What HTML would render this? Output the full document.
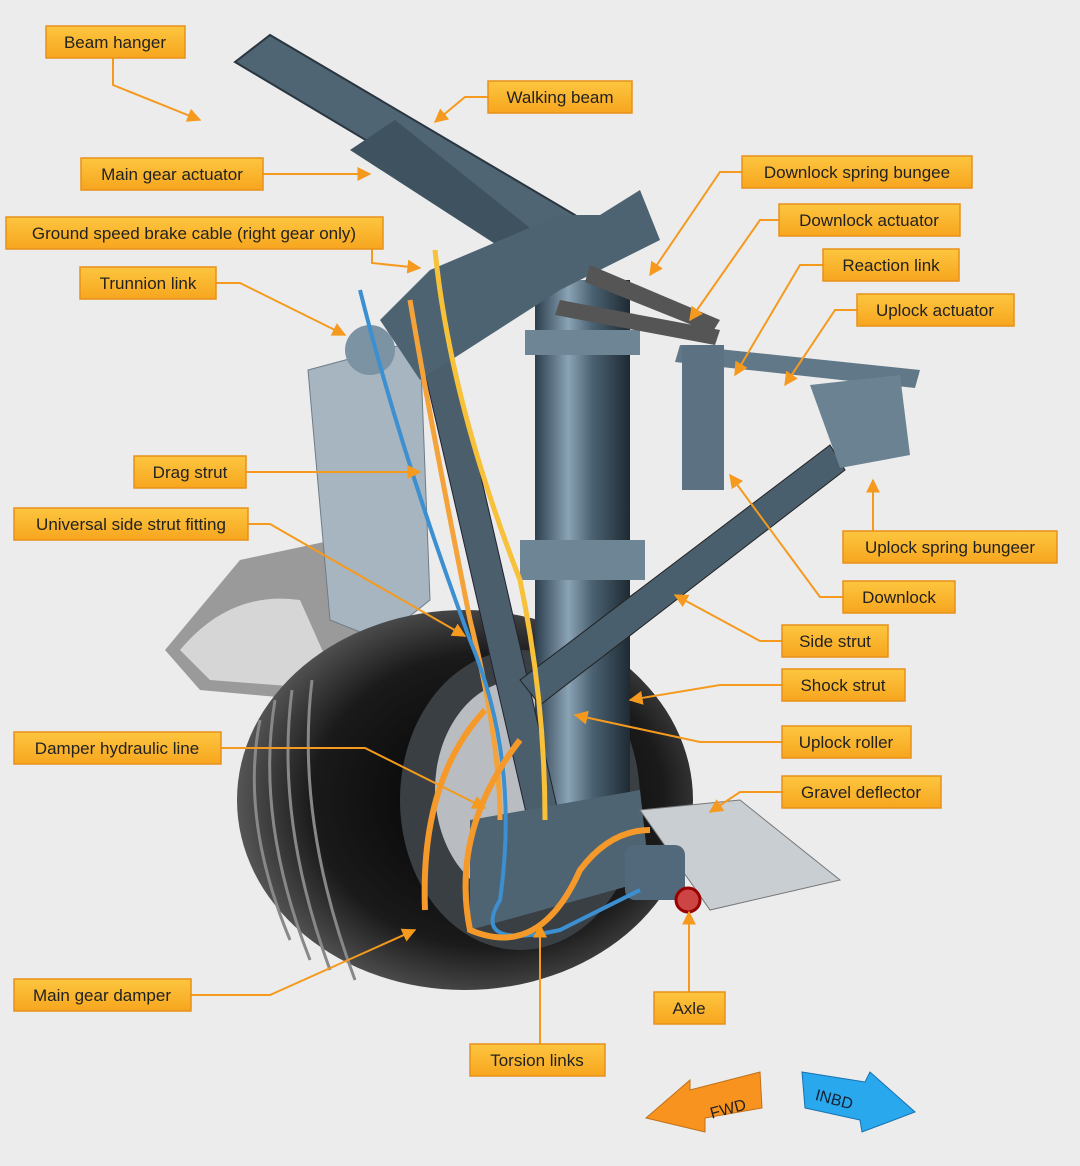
<!DOCTYPE html>
<html><head><meta charset="utf-8"><style>
html,body{margin:0;padding:0;background:#ececec;}
svg{display:block}
text{font-family:"Liberation Sans",sans-serif;}
</style></head><body>
<svg width="1080" height="1166" viewBox="0 0 1080 1166" xmlns="http://www.w3.org/2000/svg">
<defs>
<linearGradient id="lb" x1="0" y1="0" x2="0" y2="1"><stop offset="0" stop-color="#fdc640"/><stop offset="1" stop-color="#f7a51e"/></linearGradient>
<linearGradient id="cyl" x1="0" y1="0" x2="1" y2="0"><stop offset="0" stop-color="#2c3e4c"/><stop offset="0.35" stop-color="#8aa3b5"/><stop offset="0.6" stop-color="#4b6272"/><stop offset="1" stop-color="#1e2a33"/></linearGradient>
<radialGradient id="tire" cx="0.55" cy="0.5" r="0.55"><stop offset="0" stop-color="#000"/><stop offset="0.7" stop-color="#1a1a1a"/><stop offset="1" stop-color="#555"/></radialGradient>
<marker id="ah" viewBox="0 0 10 10" refX="9" refY="5" markerWidth="7" markerHeight="7" orient="auto"><path d="M0,0 L10,5 L0,10 z" fill="#f59a1e"/></marker>
</defs>
<rect width="1080" height="1166" fill="#ececec"/>
<!-- fairing -->
<path d="M165,650 L240,560 L380,530 L390,640 L310,700 L200,690 Z" fill="#9a9a9a"/>
<path d="M180,650 Q230,590 300,600 L340,690 L210,680 Z" fill="#d6d6d6"/>
<!-- panel -->
<path d="M308,370 L420,340 L430,600 L380,640 L330,620 Z" fill="#a6b5c0" stroke="#6d7d88"/>
<!-- tire -->
<ellipse cx="465" cy="800" rx="228" ry="190" fill="url(#tire)"/>
<path d="M260,720 Q240,820 290,940 M275,700 Q255,820 310,960 M292,690 Q275,820 330,970 M312,680 Q295,820 355,980" stroke="#888" stroke-width="3" fill="none"/>
<ellipse cx="520" cy="800" rx="120" ry="150" fill="#3a3f44"/>
<ellipse cx="520" cy="790" rx="85" ry="110" fill="#b9bdc2"/>
<!-- strut -->
<rect x="535" y="280" width="95" height="560" fill="url(#cyl)"/>
<rect x="520" y="540" width="125" height="40" fill="#6e8595"/>
<rect x="525" y="330" width="115" height="25" fill="#6e8595"/>
<!-- walking beam -->
<path d="M235,62 L270,35 L575,215 L550,250 Z" fill="#4f6574" stroke="#2a3640" stroke-width="2"/>
<path d="M350,150 L395,120 L545,240 L520,260 Z" fill="#3e5260"/>
<!-- drag strut -->
<path d="M415,330 L445,320 L560,820 L530,830 Z" fill="#4a5e6c" stroke="#223" />
<!-- top fittings -->
<path d="M380,320 L430,270 L560,215 L600,215 L640,190 L660,240 L560,290 L420,380 Z" fill="#4d6371"/>
<circle cx="370" cy="350" r="25" fill="#7c93a4"/>
<!-- side strut -->
<path d="M520,680 L830,445 L845,470 L540,705 Z" fill="#4a5f6d" stroke="#222"/>
<!-- actuators right -->
<path d="M590,265 L720,320 L712,333 L585,282 Z" fill="#555"/>
<path d="M560,300 L720,330 L715,345 L555,315 Z" fill="#555"/>
<path d="M680,345 L920,370 L915,388 L675,362 Z" fill="#617888"/>
<rect x="682" y="345" width="42" height="145" fill="#5c7282"/>
<path d="M810,385 L900,375 L910,455 L840,468 Z" fill="#6b8292"/>
<!-- lower parts -->
<path d="M470,820 L640,790 L650,880 L470,930 Z" fill="#4f6473"/>
<path d="M640,810 L740,800 L840,880 L710,910 Z" fill="#c9ced3" stroke="#777"/>
<rect x="625" y="845" width="60" height="55" rx="10" fill="#51697a"/>
<circle cx="688" cy="900" r="12" fill="#c44" stroke="#900" stroke-width="3"/>
<!-- hoses -->
<path d="M410,300 Q430,420 470,620 Q500,740 500,820" stroke="#f4a33a" stroke-width="5" fill="none"/>
<path d="M435,250 Q450,400 520,580 Q545,700 545,820" stroke="#f8c13a" stroke-width="5" fill="none"/>
<path d="M360,290 Q400,450 470,640 Q520,760 500,900 Q470,950 560,930 L640,890" stroke="#3c8fd0" stroke-width="4" fill="none"/>
<path d="M485,710 Q420,780 425,910 M520,740 Q450,830 470,930 Q540,960 580,870 Q610,830 650,830" stroke="#f59a2a" stroke-width="6" fill="none"/>
<!-- leader lines -->
<g stroke="#f59a1e" stroke-width="2" fill="none" marker-end="url(#ah)">
<path d="M113,58 L113,85 L200,120"/>
<path d="M488,97 L465,97 L435,122"/>
<path d="M263,174 L370,174"/>
<path d="M372,249 L372,263 L420,268"/>
<path d="M216,283 L240,283 L345,335"/>
<path d="M742,172 L720,172 L650,275"/>
<path d="M779,220 L760,220 L690,320"/>
<path d="M823,265 L800,265 L735,375"/>
<path d="M857,310 L835,310 L785,385"/>
<path d="M246,472 L420,472"/>
<path d="M248,524 L270,524 L465,636"/>
<path d="M873,531 L873,480"/>
<path d="M843,597 L820,597 L730,475"/>
<path d="M782,641 L760,641 L675,595"/>
<path d="M782,685 L720,685 L630,700"/>
<path d="M221,748 L365,748 L485,808"/>
<path d="M782,742 L700,742 L575,715"/>
<path d="M782,792 L740,792 L710,812"/>
<path d="M191,995 L270,995 L415,930"/>
<path d="M689,992 L689,912"/>
<path d="M540,1044 L540,925"/>
</g>
<!-- labels -->
<g font-size="17" fill="#222">
<g stroke="#e8901a" stroke-width="1.5" fill="url(#lb)">
<rect x="46" y="26" width="139" height="32"/>
<rect x="488" y="81" width="144" height="32"/>
<rect x="81" y="158" width="182" height="32"/>
<rect x="6" y="217" width="377" height="32"/>
<rect x="80" y="267" width="136" height="32"/>
<rect x="742" y="156" width="230" height="32"/>
<rect x="779" y="204" width="181" height="32"/>
<rect x="823" y="249" width="136" height="32"/>
<rect x="857" y="294" width="157" height="32"/>
<rect x="134" y="456" width="112" height="32"/>
<rect x="14" y="508" width="234" height="32"/>
<rect x="843" y="531" width="214" height="32"/>
<rect x="843" y="581" width="112" height="32"/>
<rect x="782" y="625" width="106" height="32"/>
<rect x="782" y="669" width="123" height="32"/>
<rect x="14" y="732" width="207" height="32"/>
<rect x="782" y="726" width="129" height="32"/>
<rect x="782" y="776" width="159" height="32"/>
<rect x="14" y="979" width="177" height="32"/>
<rect x="654" y="992" width="71" height="32"/>
<rect x="470" y="1044" width="135" height="32"/>
</g>
<text x="115" y="48" text-anchor="middle">Beam hanger</text>
<text x="560" y="103" text-anchor="middle">Walking beam</text>
<text x="172" y="180" text-anchor="middle">Main gear actuator</text>
<text x="194" y="239" text-anchor="middle">Ground speed brake cable (right gear only)</text>
<text x="148" y="289" text-anchor="middle">Trunnion link</text>
<text x="857" y="178" text-anchor="middle">Downlock spring bungee</text>
<text x="869" y="226" text-anchor="middle">Downlock actuator</text>
<text x="891" y="271" text-anchor="middle">Reaction link</text>
<text x="935" y="316" text-anchor="middle">Uplock actuator</text>
<text x="190" y="478" text-anchor="middle">Drag strut</text>
<text x="131" y="530" text-anchor="middle">Universal side strut fitting</text>
<text x="950" y="553" text-anchor="middle">Uplock spring bungeer</text>
<text x="899" y="603" text-anchor="middle">Downlock</text>
<text x="835" y="647" text-anchor="middle">Side strut</text>
<text x="843" y="691" text-anchor="middle">Shock strut</text>
<text x="117" y="754" text-anchor="middle">Damper hydraulic line</text>
<text x="846" y="748" text-anchor="middle">Uplock roller</text>
<text x="861" y="798" text-anchor="middle">Gravel deflector</text>
<text x="102" y="1001" text-anchor="middle">Main gear damper</text>
<text x="689" y="1014" text-anchor="middle">Axle</text>
<text x="537" y="1066" text-anchor="middle">Torsion links</text>
</g>
<!-- direction arrows -->
<path d="M646,1118 L690,1080 L690,1090 L760,1072 L762,1108 L705,1118 L705,1132 Z" fill="#f7931e" stroke="#c0701a"/>
<text x="710" y="1115" font-size="16" fill="#222" transform="rotate(-15 725 1110)">FWD</text>
<path d="M802,1072 L865,1082 L870,1072 L915,1112 L862,1132 L860,1120 L805,1108 Z" fill="#2aa8ee" stroke="#1670b0"/>
<text x="815" y="1105" font-size="16" fill="#123" transform="rotate(15 835 1100)">INBD</text>
</svg>
</body></html>
